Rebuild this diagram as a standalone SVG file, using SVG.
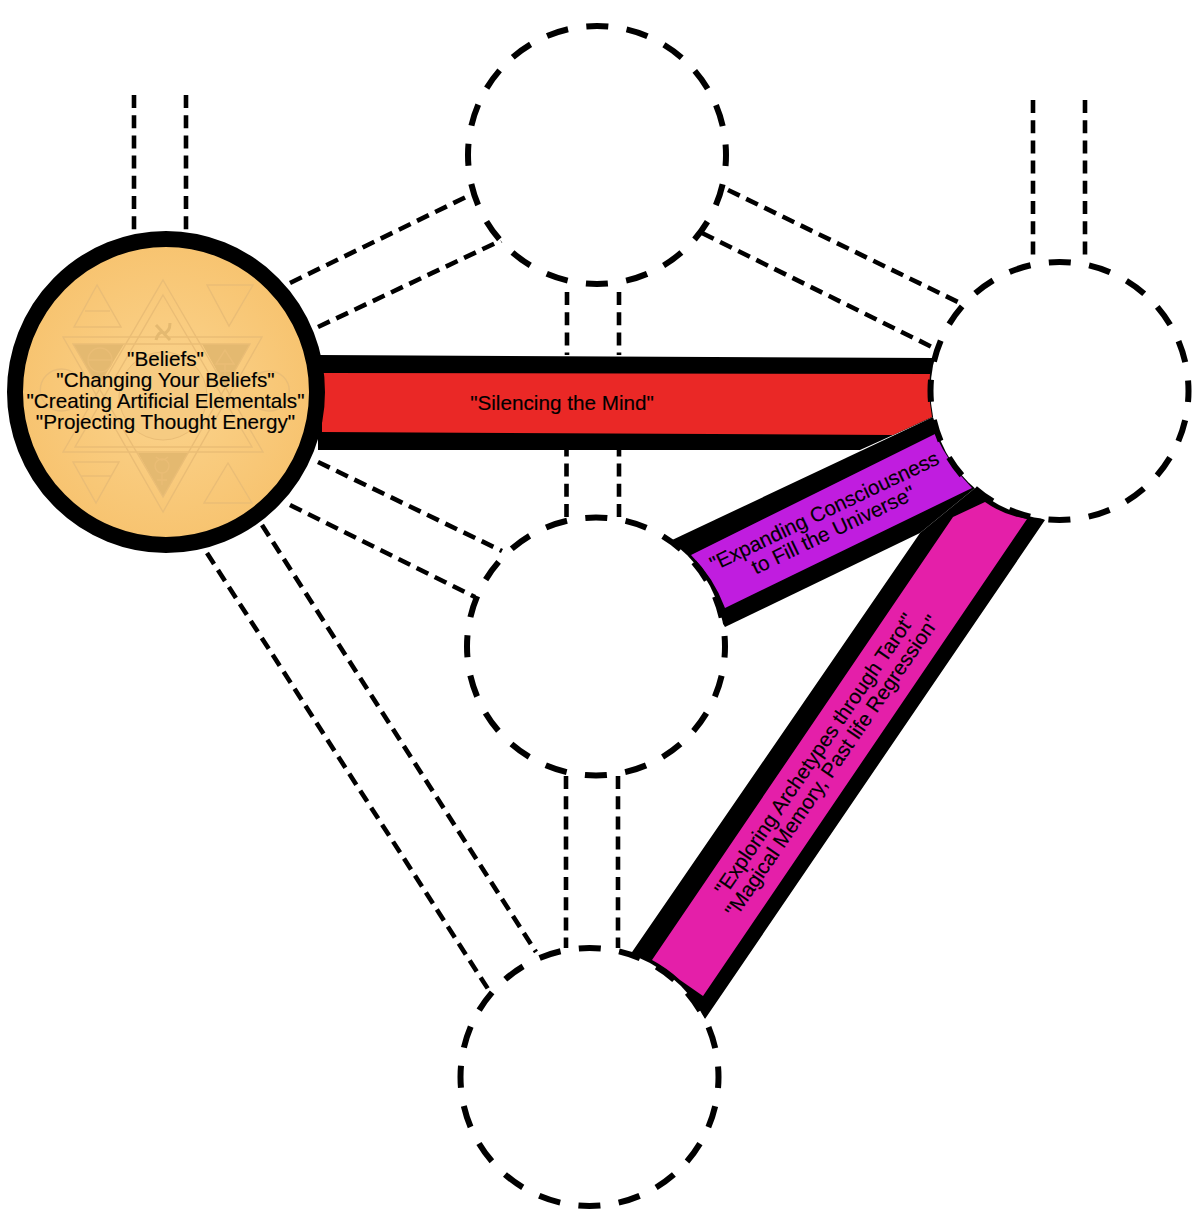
<svg xmlns="http://www.w3.org/2000/svg" width="1200" height="1232" viewBox="0 0 1200 1232">
<style>
.ring{fill:none;stroke:#000;stroke-width:6;stroke-dasharray:22 18.530;stroke-dashoffset:11}
.hole{fill:#fff;stroke:none}
.link{fill:none;stroke:#000;stroke-width:4.6;stroke-dasharray:13 7.2}
.sig{fill:none;stroke:#eabd76;stroke-width:1.4}
.sigf{fill:#e4b970;stroke:none}
text{font-family:"Liberation Sans",Arial,sans-serif;fill:#000;stroke:#000;stroke-width:.15;text-anchor:middle;font-size:20.7px}
</style>
<defs><radialGradient id="gold" cx="50%" cy="50%" r="50%"><stop offset="0" stop-color="#fbd48e"/><stop offset="1" stop-color="#f7c36f"/></radialGradient></defs>
<rect width="1200" height="1232" fill="#fff"/>
<g id="connectors">
<path class="link" d="M134 95V230M186 95V230M1033 100V260M1085 100V260"/>
<path class="link" d="M567 292V355M619 292V355M566.500 517V450M619 517V450M566 776V948M618 776V948"/>
<path class="link" d="M290 283L470 195M318 327L502 240M728 190L960 303M702 233L938 350"/>
<path class="link" d="M318 462L502 551M290 505L475 597M262 525L536 952M207 553L490 992"/>
</g>
<g id="bands-outline">
<path fill="#000" d="M318 355L936 358L933 417L860 450L318 450Z"/>
<path fill="#000" d="M670 541L933 417L975 488L920 533L725 627Z"/>
<path fill="#000" d="M920 533L975 488L1045 520L705 1019L693 1002L648 965L630 955Z"/>
</g>
<g id="holes">
<circle class="hole" cx="597" cy="155" r="129"/>
<circle class="hole" cx="1059.500" cy="391" r="129"/>
<circle class="hole" cx="596" cy="646.500" r="129"/>
<circle class="hole" cx="589.500" cy="1077" r="129"/>
</g>
<g id="band-red">
<path fill="#ea2826" d="M322 373L930 374Q928 396 932 417L893 435L322 432Z"/>
<text x="562" y="410">"Silencing the Mind"</text>
</g>
<g id="band-purple">
<path fill="#c01ddf" d="M691 555L935 434Q950 466 972 488L725 608Q714 578 691 555Z"/>
<g transform="translate(829 521) rotate(-25.500)"><text y="-4">"Expanding Consciousness</text><text y="17">to Fill the Universe"</text></g>
</g>
<g id="band-magenta">
<path fill="#e41fa9" d="M953 517L985 502Q1003 515 1027 519L703 996L680 980Q667 968 652 960Z"/>
<g transform="translate(823 760) rotate(-55.500)"><text y="-3">"Exploring Archetypes through Tarot"</text><text y="18">"Magical Memory, Past life Regression"</text></g>
</g>
<g id="node-top"><circle class="ring" cx="597" cy="155" r="129"/></g>
<g id="node-right"><circle class="ring" cx="1059.500" cy="391" r="129"/></g>
<g id="node-center"><circle class="ring" cx="596" cy="646.500" r="129"/></g>
<g id="node-bottom"><circle class="ring" cx="589.500" cy="1077" r="129"/></g>
<g id="node-left">
<ellipse cx="166" cy="392" rx="151" ry="153" fill="url(#gold)" stroke="#000" stroke-width="16"/>
<g id="sigil">
<path class="sigf" d="M73 344H124L98 387ZM202 344H250L226 387ZM138 453H188L163 497Z"/>
<circle cx="163" cy="396" r="44" fill="#f6cb82" stroke="#eabd76"/>
<path class="sig" d="M163 280L263 452H63ZM163 295L252 447H75Z"/>
<path class="sig" d="M163 512L63 337H262ZM163 497L73 344H250Z"/>
<path class="sig" d="M97 285L74 327H121ZM85 311H110"/>
<path class="sig" d="M207 285H253L229 326Z"/>
<path class="sig" d="M73 462H119L96 503ZM81 476H111"/>
<path class="sig" d="M228 463L204 503H252Z"/>
<path class="sig" d="M76 375A21 21 0 1 0 76 405M255 377A20 20 0 1 1 255 405"/>
<circle class="sig" cx="100" cy="360" r="12"/><path class="sig" d="M88 360H112"/>
<path class="sig" d="M225 350L216 364H234ZM225 364V378M220 371H230"/>
<circle class="sig" cx="162" cy="466" r="7"/><path class="sig" d="M162 473V485M157 480H167M156 457Q162 463 168 457"/>
<path fill="none" stroke="#e4b970" stroke-width="3" d="M156 325L170 340M156 340Q158 332 163 332M170 323Q170 332 163 334"/>
</g>
<text x="165.500" y="365.500">"Beliefs"</text>
<text x="165.500" y="386.500">"Changing Your Beliefs"</text>
<text x="165.500" y="407.500">"Creating Artificial Elementals"</text>
<text x="165.500" y="428.500">"Projecting Thought Energy"</text>
</g>
</svg>
